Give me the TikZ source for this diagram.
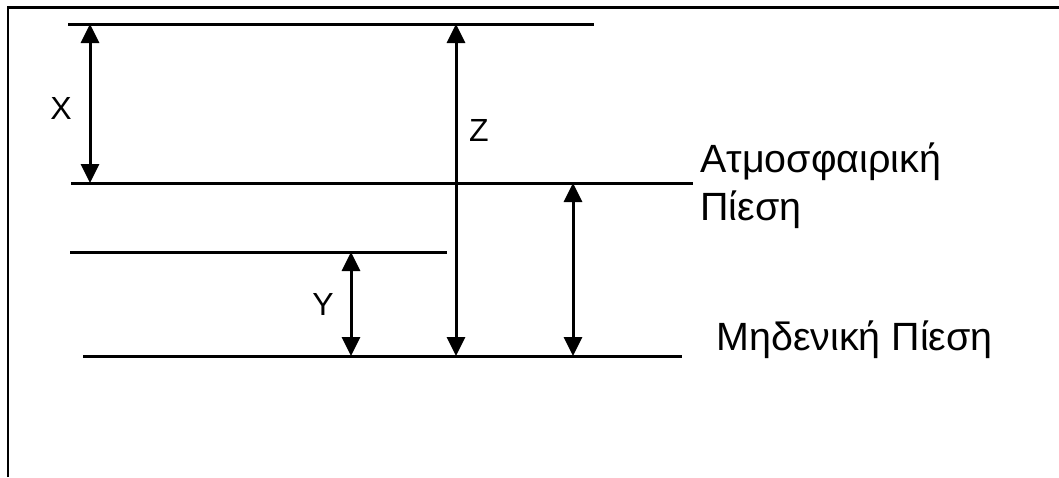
\documentclass[tikz,border=0pt]{standalone}
\usepackage{fontspec}
\setmainfont{Liberation Sans}
\usetikzlibrary{arrows.meta}

\begin{document}
\begin{tikzpicture}[x=0.5pt,y=-0.5pt,
    level/.style={line width=1.5pt},
    dimarrow/.style={line width=1.5pt,
        {Triangle[width=9pt,length=9.5pt]}-{Triangle[width=9pt,length=9.5pt]}},
    letter/.style={inner sep=0pt, font=\fontsize{16}{19}\selectfont},
    caption/.style={inner sep=0pt, anchor=base west, align=left,
        font=\fontsize{19.7}{24}\selectfont}]

\useasboundingbox (0,0) rectangle (1059,477);

% Rahmen
\draw[line width=1.25pt] (8,477) -- (8,7.5) -- (1059,7.5);

% Die Druckniveaus
\coordinate (topL) at (68,24);   \coordinate (topR) at (594,24);
\coordinate (atmL) at (71,183);  \coordinate (atmR) at (693,183);
\coordinate (midL) at (70,252);  \coordinate (midR) at (447,252);
\coordinate (zeroL) at (83,356); \coordinate (zeroR) at (682,356);

\draw[level] (topL) -- (topR);
\draw[level] (atmL) -- (atmR);
\draw[level] (midL) -- (midR);
\draw[level] (zeroL) -- (zeroR);

% Die Pfeile
\coordinate (xa) at (90,24);   \coordinate (xb) at (90,183);
\coordinate (za) at (456,24);  \coordinate (zb) at (456,356);
\coordinate (ya) at (351,252); \coordinate (yb) at (351,356);
\coordinate (pa) at (573,183); \coordinate (pb) at (573,356);

\draw[dimarrow] (xa) -- (xb);
\draw[dimarrow] (za) -- (zb);
\draw[dimarrow] (ya) -- (yb);
\draw[dimarrow] (pa) -- (pb);

% Beschriftungen
\node[letter] (xlab) at (61,108) {X};
\node[letter] (zlab) at (479,130) {Z};
\node[letter] (ylab) at (323,304) {Y};

\node[caption] (atm) at (700,220) {Ατμοσφαιρική\\Πίεση};
\node[caption] (zero) at (716,350) {Μηδενική Πίεση};

\end{tikzpicture}
\end{document}
